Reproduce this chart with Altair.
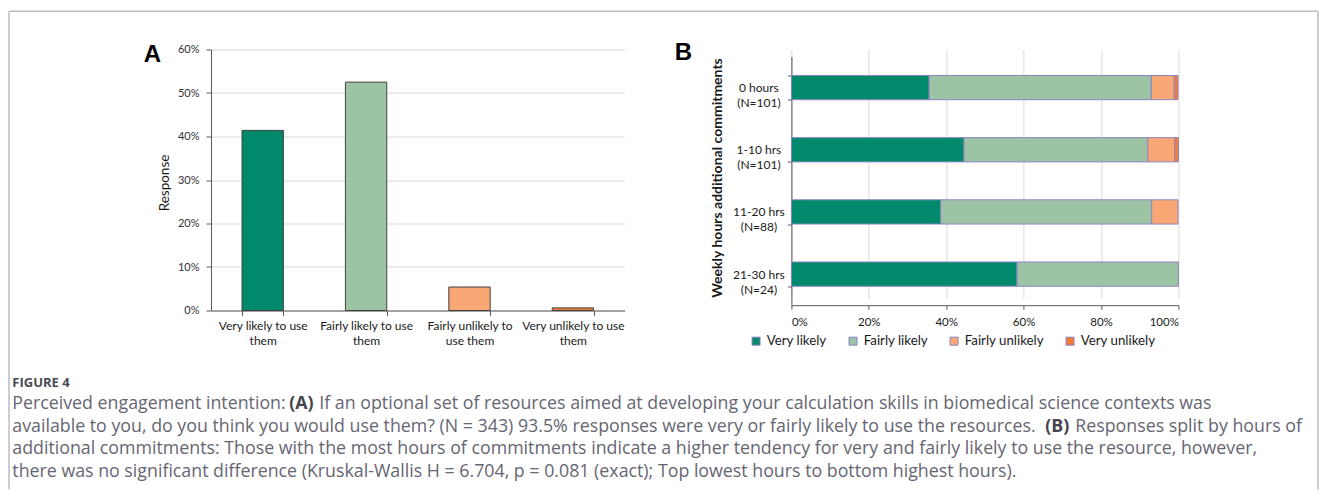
import altair as alt
import pandas as pd

# ---------------- data ----------------
# Panel A
a_categories = ["Very likely to use|them", "Fairly likely to use|them",
                "Fairly unlikely to|use them", "Very unlikely to use|them"]
a_values = [0.414, 0.525, 0.054, 0.006]
a_ticks = [0, 0.1, 0.2, 0.3, 0.4, 0.5, 0.6]

# Panel B
b_groups = ["0 hours|(N=101)", "1-10 hrs|(N=101)", "11-20 hrs|(N=88)", "21-30 hrs|(N=24)"]
b_responses = ["Very likely", "Fairly likely", "Fairly unlikely", "Very unlikely"]
b_very_likely = [0.356, 0.446, 0.386, 0.583]
b_fairly_likely = [0.574, 0.475, 0.545, 0.417]
b_fairly_unlikely = [0.059, 0.069, 0.068, 0.0]
b_very_unlikely = [0.010, 0.010, 0.0, 0.0]
b_ticks = [0, 0.2, 0.4, 0.6, 0.8, 1.0]

colors = ["#00896B", "#9DC3A5", "#F9A774", "#F47A38"]

# Texts
panel_a_label = "A"
panel_b_label = "B"
a_y_title = "Response"
b_y_title = "Weekly hours additional commitments"
caption_title = "FIGURE 4"
line1_a = "Perceived engagement intention:"
line1_b = "(A)"
line1_c = "If an optional set of resources aimed at developing your calculation skills in biomedical science contexts was"
line2_a = "available to you, do you think you would use them? (N = 343) 93.5% responses were very or fairly likely to use the resources."
line2_b = "(B)"
line2_c = "Responses split by hours of"
line3 = "additional commitments: Those with the most hours of commitments indicate a higher tendency for very and fairly likely to use the resource, however,"
line4 = "there was no significant difference (Kruskal-Wallis H = 6.704, p = 0.081 (exact); Top lowest hours to bottom highest hours)."

# ---------------- styling ----------------
AXIS_COL = "#595959"
GRID_COL = "#D9D9D9"
FONT = "Lato"
CAP_FONT = "Open Sans"
CAP_COL = "#666672"
CAP_SIZE = 17.8

# ---------------- panel A ----------------
dfA = pd.DataFrame({"cat": a_categories, "val": a_values})

barsA = alt.Chart(dfA).mark_bar(stroke="#404040", strokeWidth=1).encode(
    x=alt.X("cat:N", sort=a_categories,
            scale=alt.Scale(paddingInner=0.6, paddingOuter=0.3),
            axis=alt.Axis(title=None, labelExpr="split(datum.label, '|')", labelAngle=0,
                          tickBand="extent", tickSize=5, tickColor=AXIS_COL, domainColor=AXIS_COL,
                          labelFont=FONT, labelFontSize=12, labelColor="#1a1a1a",
                          labelLineHeight=15.3, labelPadding=5, grid=False)),
    y=alt.Y("val:Q", scale=alt.Scale(domain=[0, 0.6], nice=False),
            axis=alt.Axis(values=a_ticks, format=".0%", title=a_y_title,
                          titleFont=FONT, titleFontSize=13.5, titleFontWeight="normal",
                          titleColor="#1a1a1a", titleX=-47, titleY=133,
                          titleAlign="center", titleBaseline="middle", titleAngle=270,
                          grid=True, gridColor=GRID_COL, tickSize=5, tickColor=AXIS_COL,
                          domainColor=AXIS_COL, labelFont=FONT, labelFontSize=11,
                          labelColor="#333333", labelPadding=7)),
    color=alt.Color("cat:N", scale=alt.Scale(domain=a_categories, range=colors), legend=None),
)

one = pd.DataFrame({"t": [""]})


def txt(s, x, y, font=CAP_FONT, size=CAP_SIZE, weight="normal", color=CAP_COL, align="left",
        baseline="middle"):
    return alt.Chart(pd.DataFrame({"t": [s]})).mark_text(
        font=font, fontSize=size, fontWeight=weight, color=color, align=align, baseline=baseline
    ).encode(text="t:N", x=alt.value(x), y=alt.value(y))


def rule(x, y, x2=None, y2=None):
    enc = {"x": alt.value(x), "y": alt.value(y)}
    if x2 is not None:
        enc["x2"] = alt.value(x2)
    if y2 is not None:
        enc["y2"] = alt.value(y2)
    return alt.Chart(one).mark_rule(color="#BBBBC3", strokeWidth=1.5).encode(**enc)


# Positions relative to panel A's plot origin (page x 210.7, y 48.3)
CX = -198.7
annotations = [
    rule(-202, -38.3, y2=440),
    rule(-202, -38.3, x2=1107),
    rule(1107, -38.3, y2=440),
    txt(panel_a_label, -58.7, 5, font="Liberation Sans", size=24, weight="bold", color="#000000",
        align="center"),
    txt(panel_b_label, 472.3, 3, font="Liberation Sans", size=24, weight="bold", color="#000000",
        align="center"),
    txt(caption_title, CX, 333.5, size=13, weight="bold", color="#4a4a55"),
    txt(line1_a, CX, 354.7),
    txt(line1_b, 289 - 210.7, 354.7, weight="bold", color="#45454f"),
    txt(line1_c, 319 - 210.7, 354.7),
    txt(line2_a, CX, 377.2),
    txt(line2_b, 1045 - 210.7, 377.2, weight="bold", color="#45454f"),
    txt(line2_c, 1075 - 210.7, 377.2),
    txt(line3, CX, 399.7),
    txt(line4, CX, 422.2),
]

panelA = alt.layer(barsA, *annotations).properties(width=413.6, height=261)

# ---------------- panel B ----------------
rows = []
for gi, g in enumerate(b_groups):
    for r, vals in zip(b_responses, [b_very_likely, b_fairly_likely,
                                     b_fairly_unlikely, b_very_unlikely]):
        rows.append({"group": g, "response": r, "value": vals[gi]})
dfB = pd.DataFrame(rows)

barsB = alt.Chart(dfB).transform_filter("datum.value > 0").transform_calculate(
    ord="indexof(['Very likely','Fairly likely','Fairly unlikely','Very unlikely'], datum.response)"
).mark_bar(stroke="#8C84C6", strokeWidth=1).encode(
    y=alt.Y("group:N", sort=b_groups,
            scale=alt.Scale(range=[7, 255.7], paddingInner=0.61, paddingOuter=0.305),
            axis=alt.Axis(title=b_y_title, titleFont=FONT, titleFontSize=14,
                          titleFontWeight="bold", titleColor="#1a1a1a", titleX=-74, titleY=128,
                          titleAlign="center", titleBaseline="middle", titleAngle=270,
                          labelExpr="split(datum.label, '|')", tickBand="extent", tickSize=4,
                          tickColor=AXIS_COL, domainColor=AXIS_COL, labelFont=FONT,
                          labelFontSize=12, labelColor="#1a1a1a", labelAlign="center",
                          labelBaseline="middle", labelLineHeight=15, labelPadding=29, grid=False)),
    x=alt.X("value:Q", stack="zero", scale=alt.Scale(domain=[0, 1], nice=False),
            axis=alt.Axis(values=b_ticks, format=".0%", title=None, grid=True, gridColor=GRID_COL,
                          tickSize=4, tickColor=AXIS_COL, domainColor=AXIS_COL, labelFont=FONT,
                          labelFontSize=11.5, labelColor="#1a1a1a", labelPadding=7)),
    color=alt.Color("response:N", scale=alt.Scale(domain=b_responses, range=colors),
                    legend=alt.Legend(orient="none", legendX=-42, legendY=285,
                                      direction="horizontal", title=None, symbolType="square",
                                      symbolSize=64, symbolStrokeColor="#8C84C6",
                                      symbolStrokeWidth=1, labelFont=FONT, labelFontSize=13.3,
                                      labelColor="#1a1a1a", columnPadding=19, labelOffset=4)),
    order=alt.Order("ord:Q"),
)

panelB = barsB.properties(width=387, height=255.7)

chart = alt.hconcat(panelA, panelB, spacing=166.4, bounds="flush").resolve_scale(
    color="independent"
).properties(
    padding={"left": 0, "top": 1.5, "right": 0, "bottom": 0},
    background="white",
).configure_view(stroke=None)

chart.save("out.html", embed_options={"renderer": "svg", "actions": False})
